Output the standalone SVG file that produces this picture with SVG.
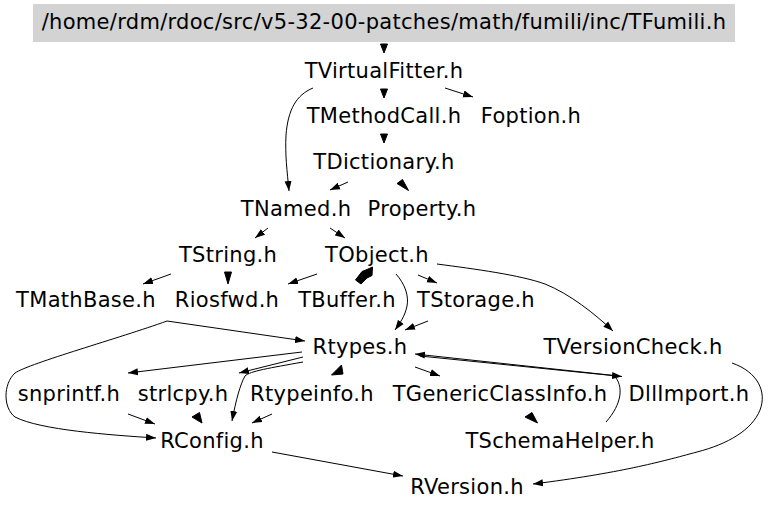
<svg xmlns="http://www.w3.org/2000/svg" width="768" height="511" viewBox="0 0 768 511">
<style>
text{font-family:"DejaVu Sans","Bitstream Vera Sans",sans-serif;font-size:21px;letter-spacing:0.3px;fill:#000;text-anchor:middle}
.e path,.e line{fill:none;stroke:#000;stroke-width:1}
.e polygon{fill:#000;stroke:#000;stroke-width:1}
</style>
<defs>
<marker id="a" markerWidth="11" markerHeight="8" refX="10" refY="4" orient="auto" markerUnits="userSpaceOnUse"><path d="M0,0.5 L10,4 L0,7.5 z" fill="#000"/></marker>
</defs>
<rect x="0" y="0" width="768" height="511" fill="#fff"/>
<g id="n_root"><rect x="33" y="4" width="702" height="38" fill="#d3d3d3"/><text x="384" y="29">/home/rdm/rdoc/src/v5-32-00-patches/math/fumili/inc/TFumili.h</text></g>
<g id="n_TVirtualFitter"><text x="384" y="78">TVirtualFitter.h</text></g>
<g id="n_TMethodCall"><text x="384" y="123">TMethodCall.h</text></g>
<g id="n_Foption"><text x="531" y="123">Foption.h</text></g>
<g id="n_TDictionary"><text x="384" y="169">TDictionary.h</text></g>
<g id="n_TNamed"><text x="296" y="216">TNamed.h</text></g>
<g id="n_Property"><text x="422" y="216">Property.h</text></g>
<g id="n_TString"><text x="228" y="262">TString.h</text></g>
<g id="n_TObject"><text x="377" y="262">TObject.h</text></g>
<g id="n_TMathBase"><text x="86" y="307">TMathBase.h</text></g>
<g id="n_Riosfwd"><text x="227" y="307">Riosfwd.h</text></g>
<g id="n_TBuffer"><text x="347" y="307">TBuffer.h</text></g>
<g id="n_TStorage"><text x="476" y="307">TStorage.h</text></g>
<g id="n_TVersionCheck"><text x="633" y="354">TVersionCheck.h</text></g>
<g id="n_Rtypes"><text x="360" y="354">Rtypes.h</text></g>
<g id="n_snprintf"><text x="69" y="401">snprintf.h</text></g>
<g id="n_strlcpy"><text x="183" y="401">strlcpy.h</text></g>
<g id="n_Rtypeinfo"><text x="312" y="401">Rtypeinfo.h</text></g>
<g id="n_TGenericClassInfo"><text x="500" y="401">TGenericClassInfo.h</text></g>
<g id="n_DllImport"><text x="689" y="401">DllImport.h</text></g>
<g id="n_TSchemaHelper"><text x="560" y="448">TSchemaHelper.h</text></g>
<g id="n_RConfig"><text x="212" y="448">RConfig.h</text></g>
<g id="n_RVersion"><text x="467" y="494">RVersion.h</text></g>
<g id="edges" class="e">
<polygon points="380.5,44 387.5,44 384,53"/>
<polygon points="380.5,89 387.5,89 384,98"/>
<polygon points="380.5,134 387.5,134 384,143"/>
<line x1="445" y1="88" x2="473" y2="97" marker-end="url(#a)"/>
<path d="M313,88 C296,95 288,110 286,135 C285,155 287,170 289,191" marker-end="url(#a)"/>
<line x1="348" y1="182" x2="330" y2="190" marker-end="url(#a)"/>
<polygon points="397,183.5 402.5,179.5 408.5,190.5"/>
<line x1="268" y1="228" x2="255" y2="238" marker-end="url(#a)"/>
<line x1="330" y1="228" x2="345" y2="238" marker-end="url(#a)"/>
<line x1="171" y1="274" x2="143" y2="284" marker-end="url(#a)"/>
<polygon points="224.5,272 231.5,272 228,284"/>
<line x1="317" y1="274" x2="288" y2="284" marker-end="url(#a)"/>
<polygon points="355.5,280 362,271.5 367,269.5 372.5,267 372,275.5 367,278 361,284"/>
<path d="M396,274 C405,284 409,296 407,306 C405,316 400,323 395,330" marker-end="url(#a)"/>
<line x1="418" y1="275" x2="437" y2="283" marker-end="url(#a)"/>
<line x1="428" y1="321" x2="405" y2="330" marker-end="url(#a)"/>
<path d="M437,264 C475,269 520,275 545,284 C570,294 595,314 613,331" marker-end="url(#a)"/>
<line x1="167" y1="321" x2="305" y2="341" marker-end="url(#a)"/>
<path d="M167,321 C120,338 30,363 15,373 C3,384 3,408 15,417 C40,430 110,435 156,438" marker-end="url(#a)"/>
<line x1="302" y1="352" x2="128" y2="373" marker-end="url(#a)"/>
<line x1="303" y1="357" x2="239" y2="373" marker-end="url(#a)"/>
<path d="M303,362 C270,368 250,371 245,376 C240,385 236,400 232,421" marker-end="url(#a)"/>
<polygon points="341.5,365 331.5,375 343,374"/>
<line x1="415" y1="367" x2="440" y2="376" marker-end="url(#a)"/>
<line x1="420" y1="356" x2="622" y2="376.5" marker-end="url(#a)"/>
<path d="M606,422 C622,404 624,386 614,375.5 L415,354" marker-end="url(#a)"/>
<polygon points="525,417 532,412.5 537.5,423"/>
<line x1="128" y1="414" x2="155" y2="424" marker-end="url(#a)"/>
<polygon points="192,417 199.5,412.5 202,423"/>
<line x1="272" y1="414" x2="252" y2="423" marker-end="url(#a)"/>
<line x1="272" y1="452" x2="403" y2="476" marker-end="url(#a)"/>
<path d="M732,363 C758,372 767,392 760,410 C752,430 728,444 697,452 C660,462 620,473 533,484" marker-end="url(#a)"/>
</g>
</svg>
